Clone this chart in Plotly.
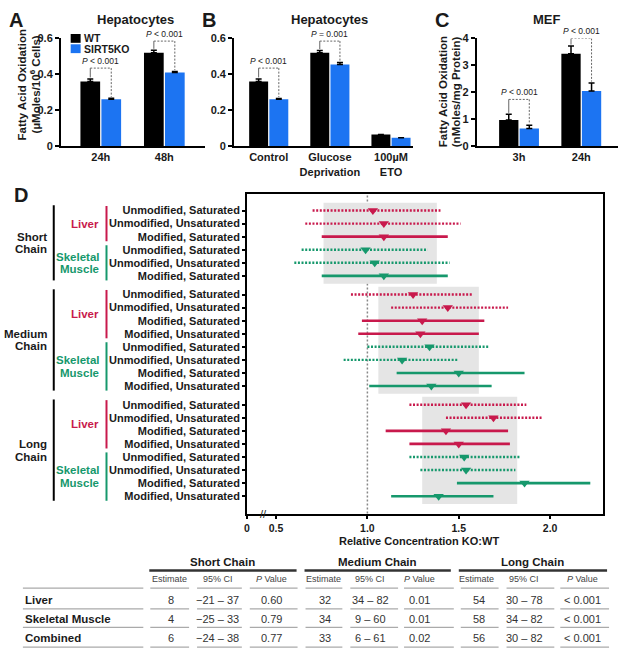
import plotly.graph_objects as go

W, H = 620, 658

# ---------------- panel A / B / C data ----------------
a_groups = ["24h", "48h"]
a_wt = [0.36, 0.52]
a_wt_err = [0.015, 0.014]
a_ko = [0.262, 0.41]
a_ko_err = [0.005, 0.006]
a_p_text = ["<i>P</i> < 0.001", "<i>P</i> < 0.001"]
a_p_y = [0.435, 0.585]

b_groups = ["Control", "Glucose<br>Deprivation", "100µM<br>ETO"]
b_wt = [0.36, 0.52, 0.066]
b_wt_err = [0.015, 0.013, 0.0]
b_ko = [0.262, 0.455, 0.048]
b_ko_err = [0.004, 0.011, 0.0]
b_p_text = ["<i>P</i> < 0.001", "<i>P</i> = 0.001", None]
b_p_y = [0.435, 0.585, None]

c_groups = ["3h", "24h"]
c_wt = [0.98, 3.43]
c_wt_err = [0.21, 0.29]
c_ko = [0.66, 2.05]
c_ko_err = [0.12, 0.30]
c_p_text = ["<i>P</i> < 0.001", "<i>P</i> < 0.001"]
c_p_y = [1.74, 4.0]

# ---------------- panel D data ----------------
chain_names = ["Short Chain", "Medium Chain", "Long Chain"]
row_chain = [0] * 6 + [1] * 8 + [2] * 8
row_tissue = (["Liver"] * 3 + ["Skeletal Muscle"] * 3
              + ["Liver"] * 4 + ["Skeletal Muscle"] * 4
              + ["Liver"] * 4 + ["Skeletal Muscle"] * 4)
row_labels = [
    "Unmodified, Saturated", "Unmodified, Unsaturated", "Modified, Saturated",
    "Unmodified, Saturated", "Unmodified, Unsaturated", "Modified, Saturated",
    "Unmodified, Saturated", "Unmodified, Unsaturated", "Modified, Saturated", "Modified, Unsaturated",
    "Unmodified, Saturated", "Unmodified, Unsaturated", "Modified, Saturated", "Modified, Unsaturated",
    "Unmodified, Saturated", "Unmodified, Unsaturated", "Modified, Saturated", "Modified, Unsaturated",
    "Unmodified, Saturated", "Unmodified, Unsaturated", "Modified, Saturated", "Modified, Unsaturated",
]
est = [1.03, 1.09, 1.09, 0.99, 1.04, 1.09,
       1.25, 1.44, 1.30, 1.29, 1.34, 1.19, 1.50, 1.35,
       1.54, 1.69, 1.43, 1.50, 1.53, 1.54, 1.86, 1.39]
ci_lo = [0.70, 0.66, 0.75, 0.64, 0.60, 0.75,
         0.91, 1.13, 0.97, 0.95, 1.00, 0.87, 1.16, 1.01,
         1.23, 1.43, 1.10, 1.23, 1.23, 1.29, 1.49, 1.13]
ci_hi = [1.40, 1.51, 1.44, 1.33, 1.45, 1.44,
         1.58, 1.77, 1.64, 1.61, 1.67, 1.50, 1.86, 1.68,
         1.87, 1.96, 1.77, 1.78, 1.84, 1.81, 2.22, 1.69]

# ---------------- table data (percent change) ----------------
table_rows = ["Liver", "Skeletal Muscle", "Combined"]
short_est = [8, 4, 6]
short_lo = [-21, -25, -24]
short_hi = [37, 33, 38]
short_p = ["0.60", "0.79", "0.77"]
medium_est = [32, 34, 33]
medium_lo = [34, 9, 6]
medium_hi = [82, 60, 61]
medium_p = ["0.01", "0.01", "0.02"]
long_est = [54, 58, 56]
long_lo = [30, 34, 30]
long_hi = [78, 82, 82]
long_p = ["< 0.001", "< 0.001", "< 0.001"]

# ---------------- helpers ----------------
FONT = "Arial, Liberation Sans, sans-serif"
INK = "#1a1a1a"
BLUE = "#1c74f2"
RED = "#c8194c"
GREEN = "#16986c"


def fx(px):
    return px / W


def fy(py):
    return 1 - py / H


fig = go.Figure()
shapes = []
annotations = []


def text(x, y, s, size=11, bold=True, xanchor="center", yanchor="middle",
         color=INK, xref="paper", yref="paper", angle=0):
    annotations.append(dict(
        x=x, y=y, xref=xref, yref=yref, text=s, showarrow=False,
        xanchor=xanchor, yanchor=yanchor, textangle=angle,
        font=dict(family=FONT, size=size, color=color,
                  weight="bold" if bold else "normal")))


def bar_panel(n, xa, ya, groups, wt, wt_err, ko, ko_err, p_text, p_y, gap):
    xs = list(range(len(groups)))
    for vals, err, col, off in ((wt, wt_err, "black", -0.32), (ko, ko_err, BLUE, 0.01)):
        fig.add_trace(go.Bar(
            x=xs, y=vals, offset=off, width=0.31, marker_color=col,
            marker_line_width=0, showlegend=False, xaxis=xa, yaxis=ya,
            error_y=dict(type="data", array=err, arrayminus=[0] * len(err),
                         symmetric=False, color="black", thickness=1.5, width=3)))
    xr, yr = "x" + n, "y" + n
    for i, t in enumerate(p_text):
        if t is None:
            continue
        wc, kc = i - 0.165, i + 0.165
        lvl = p_y[i]
        shapes.append(dict(type="line", xref=xr, yref=yr, x0=wc, x1=wc,
                           y0=lvl, y1=wt[i] + wt_err[i] + gap,
                           line=dict(color="#666", width=1)))
        shapes.append(dict(type="line", xref=xr, yref=yr, x0=wc, x1=kc,
                           y0=lvl, y1=lvl, line=dict(color="#666", width=1, dash="2px,1.5px")))
        shapes.append(dict(type="line", xref=xr, yref=yr, x0=kc, x1=kc,
                           y0=lvl, y1=ko[i] + ko_err[i] + gap,
                           line=dict(color="#666", width=1, dash="2px,1.5px")))
        annotations.append(dict(x=i, y=lvl, xref=xr, yref=yr, text=t, showarrow=False,
                                yanchor="bottom",
                                font=dict(family=FONT, size=8.5, color=INK)))


bar_panel("", "x", "y", a_groups, a_wt, a_wt_err, a_ko, a_ko_err, a_p_text, a_p_y, 0.008)
bar_panel("2", "x2", "y2", b_groups, b_wt, b_wt_err, b_ko, b_ko_err, b_p_text, b_p_y, 0.008)
bar_panel("3", "x3", "y3", c_groups, c_wt, c_wt_err, c_ko, c_ko_err, c_p_text, c_p_y, 0.05)

# ---------------- panel D ----------------
pos = [i + 0.43 * row_chain[i] for i in range(len(row_labels))]
row_color = [RED if t == "Liver" else GREEN for t in row_tissue]

# combined CI bands
comb_lo = [short_lo[2], medium_lo[2], long_lo[2]]
comb_hi = [short_hi[2], medium_hi[2], long_hi[2]]
for c in range(3):
    rows = [i for i in range(len(pos)) if row_chain[i] == c]
    shapes.append(dict(type="rect", xref="x4", yref="y4", layer="below",
                       x0=1 + comb_lo[c] / 100, x1=1 + comb_hi[c] / 100,
                       y0=pos[rows[0]] - 0.6, y1=pos[rows[-1]] + 0.6,
                       fillcolor="#e5e5e5", line_width=0))

shapes.append(dict(type="line", xref="x4", yref="y4 domain", x0=1, x1=1, y0=0, y1=1,
                   layer="below", line=dict(color="#888", width=1.5, dash="2px,2px")))

for tissue, col in (("Liver", RED), ("Skeletal Muscle", GREEN)):
    for solid in (False, True):
        xs, ys = [], []
        for i in range(len(pos)):
            if row_tissue[i] == tissue and row_labels[i].startswith("Modified") == solid:
                xs += [ci_lo[i], ci_hi[i], None]
                ys += [pos[i], pos[i], None]
        fig.add_trace(go.Scatter(
            x=xs, y=ys, mode="lines", xaxis="x4", yaxis="y4", showlegend=False,
            line=dict(color=col, width=2.6 if solid else 2.4,
                      dash="solid" if solid else "2px,1.6px")))

fig.add_trace(go.Scatter(
    x=est, y=pos, mode="markers", xaxis="x4", yaxis="y4", showlegend=False,
    marker=dict(symbol="triangle-down", size=9, color=row_color, line_width=0)))

# tissue and chain brackets
runs = []
for i in range(len(pos)):
    key = (row_chain[i], row_tissue[i])
    if runs and runs[-1][0] == key:
        runs[-1][2] = i
    else:
        runs.append([key, i, i])
for (c, tissue), a, b in runs:
    col = RED if tissue == "Liver" else GREEN
    shapes.append(dict(type="line", xref="paper", yref="y4", x0=fx(104), x1=fx(104),
                       y0=pos[a] - 0.35, y1=pos[b] + 0.35, line=dict(color=col, width=2)))
    words = tissue.split()
    mid = (pos[a] + pos[b]) / 2
    for k, wd in enumerate(words):
        yy = mid + (k - (len(words) - 1) / 2) * 0.95
        text(fx(98), yy, wd, size=11.5, xanchor="right", color=col, yref="y4")
for c, name in enumerate(chain_names):
    rows = [i for i in range(len(pos)) if row_chain[i] == c]
    shapes.append(dict(type="line", xref="paper", yref="y4", x0=fx(51), x1=fx(51),
                       y0=pos[rows[0]] - 0.4, y1=pos[rows[-1]] + 0.35,
                       line=dict(color="black", width=2)))
    mid = (pos[rows[0]] + pos[rows[-1]]) / 2
    for k, wd in enumerate(name.split()):
        text(fx(46), mid + (k - 0.5) * 0.95, wd, size=11.5, xanchor="right", yref="y4")

# axis break marks
text(0.43, fy(517), "//", size=11, bold=False, xref="x4", color="#222")

# ---------------- panel letters, titles, labels ----------------
text(fx(13), fy(14), "A", size=20)
text(fx(207), fy(14), "B", size=20)
text(fx(441), fy(14), "C", size=20)
text(fx(18), fy(193), "D", size=20)
text(fx(133), fy(14), "Hepatocytes", size=13)
text(fx(328), fy(14), "Hepatocytes", size=13)
text(fx(547), fy(14), "MEF", size=13)

text(fx(19), fy(80), "Fatty Acid Oxidation", size=11.5, angle=-90)
text(fx(32), fy(80), "(µMoles/10<sup>6</sup> Cells)", size=11.5, angle=-90)
text(fx(443), fy(87), "Fatty Acid Oxidation", size=11.5, angle=-90)
text(fx(456), fy(87), "(nMoles/mg Protein)", size=11.5, angle=-90)
text(fx(418), fy(545), "Relative Concentration KO:WT", size=11)

# legend (panel A)
for yy, col, lab in ((33, "black", "WT"), (43.5, BLUE, "SIRT5KO")):
    shapes.append(dict(type="rect", xref="paper", yref="paper",
                       x0=fx(68), x1=fx(78), y0=fy(yy - 4.5), y1=fy(yy + 4.5),
                       fillcolor=col, line_width=0))
    text(fx(79), fy(yy), lab, size=10.5, xanchor="left")

# ---------------- table ----------------
def ci_str(lo, hi):
    s = str(lo).replace("-", "\u2212")
    return f"{s} \u2013 {hi}"


col_x = [167, 216, 270, 322, 369, 419, 476, 524, 582]
head_x = [221, 376, 532]
row_y = [605, 624, 644]
for k, name in enumerate(chain_names):
    text(fx(head_x[k]), fy(566), name, size=11.5)
for k in range(3):
    for j, h in enumerate(["Estimate", "95% CI", "<i>P</i> Value"]):
        text(fx(col_x[3 * k + j]), fy(584), h, size=9, bold=False, color="#444")
blocks = [(short_est, short_lo, short_hi, short_p),
          (medium_est, medium_lo, medium_hi, medium_p),
          (long_est, long_lo, long_hi, long_p)]
for r, name in enumerate(table_rows):
    text(fx(20), fy(row_y[r]), name, size=11.5, xanchor="left")
    for k, (e, lo, hi, p) in enumerate(blocks):
        text(fx(col_x[3 * k] + 2), fy(row_y[r]), str(e[r]), size=11, bold=False, color="#333")
        text(fx(col_x[3 * k + 1]), fy(row_y[r]), ci_str(lo[r], hi[r]), size=11, bold=False, color="#333")
        text(fx(col_x[3 * k + 2]), fy(row_y[r]), p[r], size=11, bold=False, color="#333")

for x0, x1 in ((147, 295), (303, 450), (458, 607)):
    shapes.append(dict(type="line", xref="paper", yref="paper", x0=fx(x0), x1=fx(x1),
                       y0=fy(575), y1=fy(575), line=dict(color="#333", width=2.5)))
segs = [(20, 141), (148, 187), (195, 240), (248, 296), (304, 341), (349, 397),
        (403, 453), (460, 498), (506, 554), (560, 609)]
for yy in (593, 614, 633, 653):
    for x0, x1 in segs:
        shapes.append(dict(type="line", xref="paper", yref="paper", x0=fx(x0), x1=fx(x1),
                           y0=fy(yy), y1=fy(yy), line=dict(color="#aaa", width=1.2)))

# ---------------- axes ----------------
tick_font = dict(family=FONT, size=11, color=INK, weight="bold")
base_y = dict(showgrid=False, zeroline=False, showline=True, linecolor="black", linewidth=1.5,
              ticks="outside", ticklen=4, tickwidth=1.5, tickcolor="black", tickfont=tick_font)
base_x = dict(showgrid=False, zeroline=False, showline=True, linecolor="black", linewidth=1.5,
              ticks="", tickfont=tick_font)

fig.update_layout(
    width=W, height=H, margin=dict(l=0, r=0, t=0, b=0),
    paper_bgcolor="white", plot_bgcolor="white", showlegend=False,
    font=dict(family=FONT, color=INK), barmode="overlay",
    xaxis=dict(base_x, domain=[fx(58), fx(203)], anchor="y", range=[-0.63, 1.64],
               tickvals=[0, 1], ticktext=a_groups),
    yaxis=dict(base_y, domain=[fy(143), fy(33)], anchor="x", range=[0, 0.6],
               tickvals=[0, 0.2, 0.4, 0.6], ticktext=["0", "0.2", "0.4", "0.6"]),
    xaxis2=dict(base_x, domain=[fx(232), fx(412)], anchor="y2", range=[-0.57, 2.36],
                tickvals=[0, 1, 2], ticktext=b_groups),
    yaxis2=dict(base_y, domain=[fy(143), fy(33)], anchor="x2", range=[0, 0.6],
                tickvals=[0, 0.2, 0.4, 0.6], ticktext=["0", "0.2", "0.4", "0.6"]),
    xaxis3=dict(base_x, domain=[fx(476), fx(618)], anchor="y3", range=[-0.68, 1.59],
                tickvals=[0, 1], ticktext=c_groups),
    yaxis3=dict(base_y, domain=[fy(143), fy(33)], anchor="x3", range=[0, 4],
                tickvals=[0, 1, 2, 3, 4]),
    xaxis4=dict(base_y, domain=[fx(245), fx(603)], anchor="y4", range=[0.34, 2.29],
                mirror=True, ticklen=4, tickfont=dict(tick_font, size=10.5),
                tickvals=[0.34, 0.5, 1.0, 1.5, 2.0],
                ticktext=["0", "0.5", "1.0", "1.5", "2.0"]),
    yaxis4=dict(base_y, domain=[fy(517), fy(191)], anchor="x4", range=[23.19, -1.3],
                mirror=True, ticklen=3, tickvals=pos, ticktext=row_labels),
    shapes=shapes, annotations=annotations,
)

fig.write_html("out.html", config={"displayModeBar": False},
               post_script="document.body.style.margin='0';")
